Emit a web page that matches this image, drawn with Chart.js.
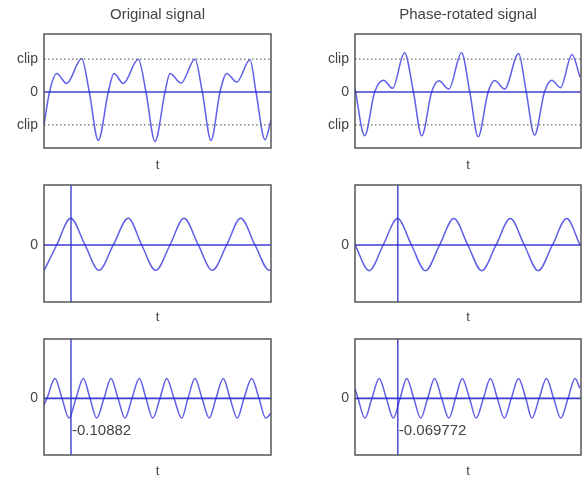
<!DOCTYPE html>
<html>
<head>
<meta charset="utf-8">
<script src="https://cdn.jsdelivr.net/npm/chart.js@4.4.0/dist/chart.umd.min.js"></script>
<style>
  html, body { margin: 0; padding: 0; background: #fff; }
  #page { position: relative; width: 582px; height: 477px; overflow: hidden; }
  #page canvas { position: absolute; left: 0; top: 0; }
</style>
</head>
<body>
<div id="page"></div>
<script>
// Time runs over the visible window, 0..tMax (same for both columns)
const tMax = 227;

// Top left: original signal
const origT = [0, 5.5, 12.7, 22.7, 37.7, 45.3, 54.3, 64.3, 70, 79.3, 94.3, 102, 111, 121, 126, 137, 151, 158.3, 167, 176, 182.7, 192.7, 206, 212, 221, 227];
const origV = [-1.0, 0, 0.56, 0.26, 1.02, 0, -1.47, 0, 0.56, 0.26, 0.99, 0, -1.5, 0, 0.56, 0.27, 0.99, 0, -1.47, 0, 0.56, 0.3, 0.98, 0, -1.45, -0.85];

// Top right: phase-rotated signal
const rotT = [0, 9.7, 19.7, 28.7, 37.7, 49.7, 58.7, 67, 77, 84.3, 94.3, 107, 115.3, 123.7, 133.7, 140.3, 150.3, 164.3, 172, 180.3, 190.3, 197.7, 206.3, 218, 226];
const rotV = [0.1, -1.33, 0, 0.36, 0.11, 1.19, 0, -1.33, 0, 0.34, 0.09, 1.19, 0, -1.36, 0, 0.35, 0.09, 1.17, 0, -1.31, 0, 0.36, 0.13, 1.14, 0.45];

// Middle row: fundamental component
const fundLT = [0, 12.7, 26.7, 41, 55, 69.3, 84.3, 97.7, 111.7, 126, 140, 154.3, 168.3, 182.7, 196.7, 211, 225.3, 227];
const fundLV = [-0.78, 0, 0.81, 0, -0.77, 0, 0.81, 0, -0.77, 0, 0.81, 0, -0.77, 0, 0.81, 0, -0.77, -0.77];
const fundRT = [0, 14.3, 28.3, 42.7, 56.7, 70.7, 85, 99.3, 113.3, 127.3, 141.7, 156, 170, 184, 198.3, 212.7, 226];
const fundRV = [0, -0.78, 0, 0.8, 0, -0.78, 0, 0.8, 0, -0.78, 0, 0.8, 0, -0.78, 0, 0.8, 0];

// Bottom row: second harmonic
const harmLT = [0, 3, 11, 18, 25, 32, 39.3, 46, 52.7, 60, 67, 74, 81, 88, 95.3, 102, 108.7, 116, 122.7, 130, 137.7, 144, 151, 158, 165.3, 172, 179.3, 186, 193.3, 200, 207.7, 215, 221.7, 227];
const harmLV = [-0.2, 0, 0.6, 0, -0.6, 0, 0.6, 0, -0.6, 0, 0.6, 0, -0.6, 0, 0.6, 0, -0.6, 0, 0.6, 0, -0.6, 0, 0.6, 0, -0.6, 0, 0.6, 0, -0.6, 0, 0.6, 0, -0.6, -0.45];
const harmRT = [0, 3, 10, 17, 24.3, 31.5, 38.5, 45.3, 52, 59, 66, 73, 80, 87, 94.3, 101, 107.7, 115, 121.7, 129, 136, 143, 150, 157, 164.3, 171.5, 177.7, 185, 192.3, 199.5, 206.7, 214, 221, 226];
const harmRV = [0.3, 0, -0.6, 0, 0.6, 0, -0.6, 0, 0.6, 0, -0.6, 0, 0.6, 0, -0.6, 0, 0.6, 0, -0.6, 0, 0.6, 0, -0.6, 0, 0.6, 0, -0.6, 0, 0.6, 0, -0.6, 0, 0.6, 0.3];

// Cursors (time of fundamental peak) and harmonic value read there
const cursorT = [27, 43];
const noteText = ['-0.10882', '-0.069772'];
const noteY = -0.99;

// Tick labels
const clipTicks = [-1, 0, 1];
const clipLabels = ['clip', '0', 'clip'];
const zeroTicks = [0];
const zeroLabels = ['0'];
const titles = ['Original signal', 'Phase-rotated signal'];

// Page layout (pixel frames of each axes box)
const W = 582, H = 477;
const cols = [{left: 44, right: 271}, {left: 355, right: 581}];
const rows = [
  {top: 34, bottom: 148, tY: 165, yMin: -1.70, yMax: 1.76},
  {top: 185, bottom: 302, tY: 317, yMin: -1.73, yMax: 1.82},
  {top: 339, bottom: 455, tY: 471.8, yMin: -1.72, yMax: 1.80}
];
const yAxisW = 40;
const tLine = 0.8 * 13;

const TEXT = '#444';
const SIGNAL = 'rgba(55,55,225,0.8)';
const ZERO = 'rgba(40,40,205,0.9)';
const DOTS = '#6a6a6a';

Chart.defaults.font.family = '"Liberation Sans", Arial, sans-serif';

function series(xs, ys, color, width, dash) {
  return {
    data: xs.map((x, i) => ({x: x, y: ys[i]})),
    borderColor: color,
    borderWidth: width,
    borderDash: dash || [],
    pointRadius: 0,
    fill: false,
    cubicInterpolationMode: 'monotone'
  };
}

const panelExtras = {
  id: 'panelExtras',
  afterDatasetsDraw(chart, args, opts) {
    const {ctx, chartArea: a, scales} = chart;
    ctx.save();
    ctx.strokeStyle = '#4a4a4a';
    ctx.lineWidth = 1.4;
    ctx.strokeRect(a.left, a.top, a.right - a.left, a.bottom - a.top);
    if (opts.note) {
      ctx.fillStyle = TEXT;
      ctx.font = '15px "Liberation Sans", Arial, sans-serif';
      ctx.textAlign = 'left';
      ctx.textBaseline = 'middle';
      ctx.fillText(opts.note.text,
        scales.x.getPixelForValue(opts.note.x) + 1,
        scales.y.getPixelForValue(opts.note.y));
    }
    ctx.restore();
  }
};

function panel(c, r, datasets, ticks, labels, title, note) {
  const col = cols[c], row = rows[r];
  const canvas = document.createElement('canvas');
  canvas.width = W;
  canvas.height = H;
  document.getElementById('page').appendChild(canvas);
  const xH = row.tY + tLine / 2 - row.bottom;
  return new Chart(canvas, {
    type: 'line',
    data: {datasets: datasets},
    plugins: [panelExtras],
    options: {
      responsive: false,
      animation: false,
      layout: {
        padding: {
          left: col.left - yAxisW,
          right: W - col.right,
          top: title ? 0 : row.top,
          bottom: H - row.bottom - xH
        }
      },
      plugins: {
        legend: {display: false},
        tooltip: {enabled: false},
        title: {
          display: !!title,
          text: title || '',
          fullSize: false,
          color: TEXT,
          font: {size: 15, weight: 'normal', lineHeight: 1.2},
          padding: {top: 6, bottom: 10}
        },
        panelExtras: {note: note}
      },
      scales: {
        x: {
          type: 'linear',
          min: 0,
          max: tMax,
          grid: {display: false},
          border: {display: false},
          ticks: {display: false},
          title: {display: true, text: 't', color: TEXT, font: {size: 13, lineHeight: 0.8}, padding: 0},
          afterFit: s => { s.height = xH; }
        },
        y: {
          type: 'linear',
          min: row.yMin,
          max: row.yMax,
          grid: {display: false, drawTicks: false},
          border: {display: false},
          ticks: {
            color: TEXT,
            font: {size: 14},
            padding: 6,
            callback: (v, i) => labels[i]
          },
          afterBuildTicks: s => { s.ticks = ticks.map(v => ({value: v})); },
          afterFit: s => { s.width = yAxisW; }
        }
      }
    }
  });
}

function flat(y, color, width, dash) {
  return series([0, tMax], [y, y], color, width, dash);
}
function cursor(t, row) {
  return series([t, t], [row.yMin, row.yMax], ZERO, 1.4);
}

// Row 1: signals with clip levels
panel(0, 0, [flat(1, DOTS, 1.2, [1.5, 2.5]), flat(-1, DOTS, 1.2, [1.5, 2.5]), flat(0, ZERO, 1.7),
  series(origT, origV, SIGNAL, 1.5)], clipTicks, clipLabels, titles[0]);
panel(1, 0, [flat(1, DOTS, 1.2, [1.5, 2.5]), flat(-1, DOTS, 1.2, [1.5, 2.5]), flat(0, ZERO, 1.7),
  series(rotT, rotV, SIGNAL, 1.5)], clipTicks, clipLabels, titles[1]);

// Row 2: fundamental with cursor
panel(0, 1, [flat(0, ZERO, 1.7), cursor(cursorT[0], rows[1]), series(fundLT, fundLV, SIGNAL, 1.5)], zeroTicks, zeroLabels);
panel(1, 1, [flat(0, ZERO, 1.7), cursor(cursorT[1], rows[1]), series(fundRT, fundRV, SIGNAL, 1.5)], zeroTicks, zeroLabels);

// Row 3: second harmonic with cursor and its value
panel(0, 2, [flat(0, ZERO, 1.7), cursor(cursorT[0], rows[2]), series(harmLT, harmLV, SIGNAL, 1.5)], zeroTicks, zeroLabels,
  null, {x: cursorT[0], y: noteY, text: noteText[0]});
panel(1, 2, [flat(0, ZERO, 1.7), cursor(cursorT[1], rows[2]), series(harmRT, harmRV, SIGNAL, 1.5)], zeroTicks, zeroLabels,
  null, {x: cursorT[1], y: noteY, text: noteText[1]});
</script>
</body>
</html>
